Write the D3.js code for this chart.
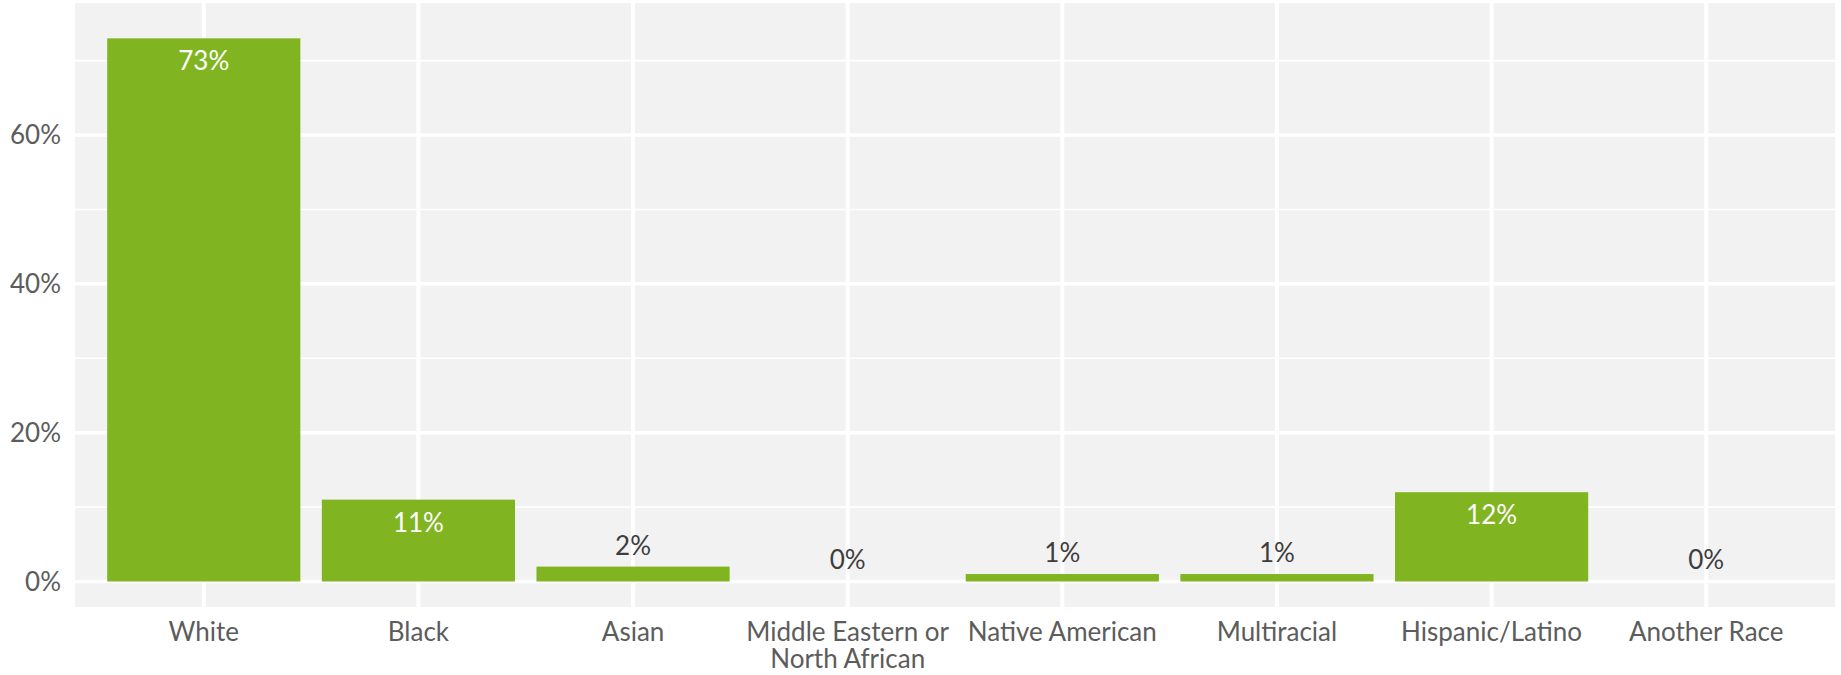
<!DOCTYPE html>
<html><head><meta charset="utf-8">
<script src="https://cdn.jsdelivr.net/npm/d3@7"></script>
<style>body{margin:0;background:#fff;} text{font-family:Lato, "Open Sans", sans-serif;}</style>
</head><body>
<svg id="c" width="1841" height="675"></svg>
<script>
const categories = ["White","Black","Asian","Middle Eastern or North African","Native American","Multiracial","Hispanic/Latino","Another Race"];
const values = [73, 11, 2, 0, 1, 1, 12, 0];
const labels = ["73%","11%","2%","0%","1%","1%","12%","0%"];
const yTicks = [0, 20, 40, 60];
const yMinor = [10, 30, 50, 70];
const xLabelLines = [["White"],["Black"],["Asian"],["Middle Eastern or","North African"],["Native American"],["Multiracial"],["Hispanic/Latino"],["Another Race"]];

const svg = d3.select("#c");
const L = 75, R = 1835, T = 3, B = 607;
const x = d3.scaleBand().domain(categories).range([L, R]).paddingInner(0.1).paddingOuter(0.15);
const y = d3.scaleLinear().domain([-3.43, 77.75]).range([B, T]);
const FS = 26;

svg.append("rect").attr("x", L).attr("y", T).attr("width", R - L).attr("height", B - T).attr("fill", "#f2f2f2");

svg.selectAll(".minor").data(yMinor).join("line")
  .attr("x1", L).attr("x2", R).attr("y1", d => y(d)).attr("y2", d => y(d))
  .attr("stroke", "#fff").attr("stroke-width", 1.6);
svg.selectAll(".major").data(yTicks).join("line")
  .attr("x1", L).attr("x2", R).attr("y1", d => y(d)).attr("y2", d => y(d))
  .attr("stroke", "#fff").attr("stroke-width", 3.5);
svg.selectAll(".vmajor").data(categories).join("line")
  .attr("y1", T).attr("y2", B).attr("x1", d => x(d) + x.bandwidth() / 2).attr("x2", d => x(d) + x.bandwidth() / 2)
  .attr("stroke", "#fff").attr("stroke-width", 4);

svg.selectAll(".bar").data(categories).join("rect")
  .attr("x", d => x(d)).attr("width", x.bandwidth())
  .attr("y", (d, i) => y(values[i])).attr("height", (d, i) => y(0) - y(values[i]))
  .attr("fill", "#80b521");

svg.selectAll(".lbl").data(categories).join("text")
  .attr("x", d => x(d) + x.bandwidth() / 2)
  .attr("y", (d, i) => values[i] > 5 ? y(values[i]) + 32 : y(values[i]) - 12)
  .attr("text-anchor", "middle").attr("font-size", FS)
  .attr("fill", (d, i) => values[i] > 5 ? "#ffffff" : "#3d3d3d")
  .text((d, i) => labels[i]);

svg.selectAll(".yt").data(yTicks).join("text")
  .attr("x", 61).attr("y", d => y(d)).attr("dy", "0.35em")
  .attr("text-anchor", "end").attr("font-size", FS).attr("fill", "#5c5c5c")
  .text(d => d + "%");

const xt = svg.selectAll(".xt").data(categories).join("text")
  .attr("text-anchor", "middle").attr("font-size", FS).attr("fill", "#5c5c5c");
xt.each(function(d, i) {
  const t = d3.select(this);
  xLabelLines[i].forEach((ln, k) => {
    t.append("tspan").attr("x", x(d) + x.bandwidth() / 2).attr("y", 641 + k * 27).text(ln);
  });
});
</script>
</body></html>
